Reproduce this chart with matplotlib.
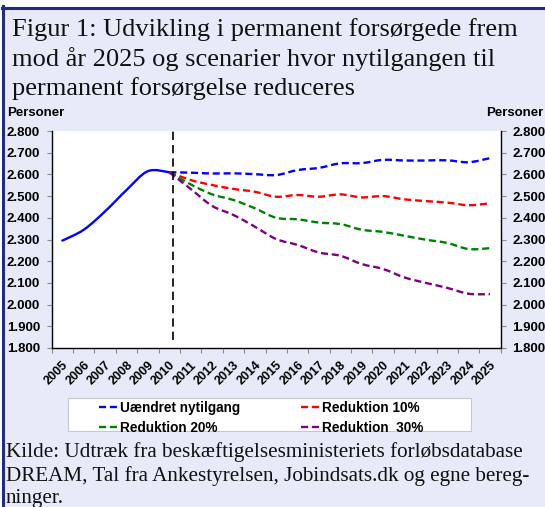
import matplotlib
matplotlib.use("Agg")
import matplotlib.pyplot as plt
import numpy as np
from matplotlib.path import Path
from matplotlib.patches import PathPatch, Rectangle
from matplotlib.lines import Line2D

# ---------------- data ----------------
years_hist = [2005, 2006, 2007, 2008, 2009, 2010]
hist_values = [2295, 2345, 2430, 2528, 2615, 2610]

years_proj = [2010, 2011, 2012, 2013, 2014, 2015, 2016, 2017,
              2018, 2019, 2020, 2021, 2022, 2023, 2024, 2025]
uaendret = [2610, 2608, 2604, 2605, 2601, 2597, 2620, 2630,
            2651, 2652, 2667, 2664, 2664, 2665, 2656, 2675]
red10 = [2610, 2574, 2551, 2533, 2520, 2497, 2505, 2497,
         2508, 2494, 2500, 2485, 2477, 2470, 2458, 2467]
red20 = [2610, 2554, 2508, 2482, 2444, 2400, 2393, 2378,
         2371, 2345, 2335, 2317, 2299, 2284, 2256, 2260]
red30 = [2610, 2533, 2455, 2413, 2359, 2302, 2275, 2240,
         2225, 2187, 2164, 2125, 2100, 2077, 2050, 2048]

series_labels = ["Uændret nytilgang", "Reduktion 10%",
                 "Reduktion 20%", "Reduktion  30%"]
year_labels = [str(y) for y in range(2005, 2026)]
y_ticks = [1800, 1900, 2000, 2100, 2200, 2300, 2400, 2500, 2600, 2700, 2800]
y_tick_labels = ["1.800", "1.900", "2.000", "2.100", "2.200", "2.300",
                 "2.400", "2.500", "2.600", "2.700", "2.800"]
forecast_start = 2010

title = ("Figur 1: Udvikling i permanent forsørgede frem\n"
         "mod år 2025 og scenarier hvor nytilgangen til\n"
         "permanent forsørgelse reduceres")
source = ("Kilde: Udtræk fra beskæftigelsesministeriets forløbsdatabase\n"
          "DREAM, Tal fra Ankestyrelsen, Jobindsats.dk og egne bereg-\n"
          "ninger.")

# ---------------- style ----------------
W, H = 545, 507
BG = "#E7EAF8"
NAVY = "#1F2D7B"
SANS = ["Liberation Sans", "DejaVu Sans"]
SERIF = ["Liberation Serif", "DejaVu Serif"]
colors = ["#0000FF", "#FF0000", "#008000", "#800080"]
dash = (0, (3, 1.6))
LW = 1.7

plt.rcParams["font.family"] = SANS


def smooth_path(xs, ys):
    xs = np.asarray(xs, float)
    ys = np.asarray(ys, float)
    n = len(xs)
    verts = [(xs[0], ys[0])]
    codes = [Path.MOVETO]
    for i in range(n - 1):
        x0, y0 = (xs[i - 1], ys[i - 1]) if i > 0 else (xs[i], ys[i])
        x3, y3 = (xs[i + 2], ys[i + 2]) if i + 2 < n else (xs[i + 1], ys[i + 1])
        c1 = (xs[i] + (xs[i + 1] - x0) / 6.0, ys[i] + (ys[i + 1] - y0) / 6.0)
        c2 = (xs[i + 1] - (x3 - xs[i]) / 6.0, ys[i + 1] - (y3 - ys[i]) / 6.0)
        verts += [c1, c2, (xs[i + 1], ys[i + 1])]
        codes += [Path.CURVE4] * 3
    return Path(verts, codes)


fig = plt.figure(figsize=(W / 100, H / 100), dpi=100, facecolor="white")

# panel background and navy frame
fig.add_artist(Rectangle((5 / W, 0), 1, 1 - 8.5 / H, transform=fig.transFigure,
                         facecolor=BG, edgecolor="none", zorder=-5))
fig.add_artist(Line2D([3.3 / W, 3.3 / W], [0, 1 - 6 / H], transform=fig.transFigure,
                      color=NAVY, lw=2.2, zorder=-4))
fig.add_artist(Line2D([1.8 / W, 1], [1 - 7.5 / H, 1 - 7.5 / H], transform=fig.transFigure,
                      color=NAVY, lw=2.2, zorder=-4))

ax = fig.add_axes([51.7 / W, 1 - 348 / H, (500.7 - 51.7) / W, (348 - 131) / H])
ax.set_facecolor("white")

# historical (solid, smoothed)
ax.add_patch(PathPatch(smooth_path(years_hist, hist_values), fill=False,
                       edgecolor=colors[0], lw=LW, capstyle="round", joinstyle="round"))
# scenarios (dashed, smoothed)
for vals, c in zip([uaendret, red10, red20, red30], colors):
    ax.add_patch(PathPatch(smooth_path(years_proj, vals), fill=False,
                           edgecolor=c, lw=LW, linestyle=dash, capstyle="butt"))

ax.axvline(forecast_start + 0.15, ymin=0.035, ymax=1.0, color="black",
           lw=1.2, linestyle=(0, (5, 3)))

ax.set_xlim(2004.5, 2025.5)
ax.set_ylim(1800, 2800)

ax.set_xticks(np.arange(2004.5, 2026, 1.0))
ax.set_xticklabels([])
ax.set_xticks(range(2005, 2026), minor=True)
ax.set_xticklabels(year_labels, minor=True, rotation=45, ha="right", va="top",
                   rotation_mode="anchor", fontsize=9, fontweight="bold")
ax.tick_params(axis="x", which="major", length=3.5, color="#8C8C8C", width=0.8,
               direction="out")
ax.tick_params(axis="x", which="minor", length=0, pad=8)

ax.set_yticks(y_ticks)
ax.set_yticklabels(y_tick_labels, fontsize=9.5, fontweight="bold")
ax.tick_params(axis="y", which="major", length=3.5, color="#8C8C8C", width=0.8,
               direction="out", left=True, right=True, labelleft=True,
               labelright=True, pad=5)

for side in ["left", "right", "bottom"]:
    ax.spines[side].set_color("black")
    ax.spines[side].set_linewidth(1.0)
ax.spines["top"].set_visible(False)

# titles
fig.text(11.5 / W, 1 - 18 / H, title, ha="left", va="top", family=SERIF,
         fontsize=19, linespacing=1.33, color="#111111")
fig.text(7.3 / W, 1 - 116.5 / H, "Personer", ha="left", va="baseline",
         fontsize=9.5, fontweight="bold")
fig.text(543 / W, 1 - 116.5 / H, "Personer", ha="right", va="baseline",
         fontsize=9.5, fontweight="bold")

# legend
fig.add_artist(Rectangle((67.5 / W, 1 - 431 / H), (471 - 67.5) / W, (431 - 397.7) / H,
                         transform=fig.transFigure, facecolor="white",
                         edgecolor="#C8C8C8", lw=0.8, zorder=1))
handles = [Line2D([], [], color=c, lw=LW, linestyle=dash) for c in colors]
order = [0, 2, 1, 3]
leg = fig.legend([handles[i] for i in order], [series_labels[i] for i in order],
                 loc="upper left", bbox_to_anchor=(99 / W, 1 - 401 / H),
                 ncol=2, frameon=False, borderpad=0, borderaxespad=0,
                 handlelength=1.4, handletextpad=0.15, columnspacing=4.45,
                 labelspacing=0.45, prop={"family": SANS, "weight": "bold",
                                          "size": 9.8})
leg.set_zorder(2)

# source
fig.text(5.5 / W, 1 - 442.5 / H, source, ha="left", va="top", family=SERIF,
         fontsize=15.2, linespacing=1.22, color="#111111")

fig.savefig("out.png", dpi=100, facecolor="white")
